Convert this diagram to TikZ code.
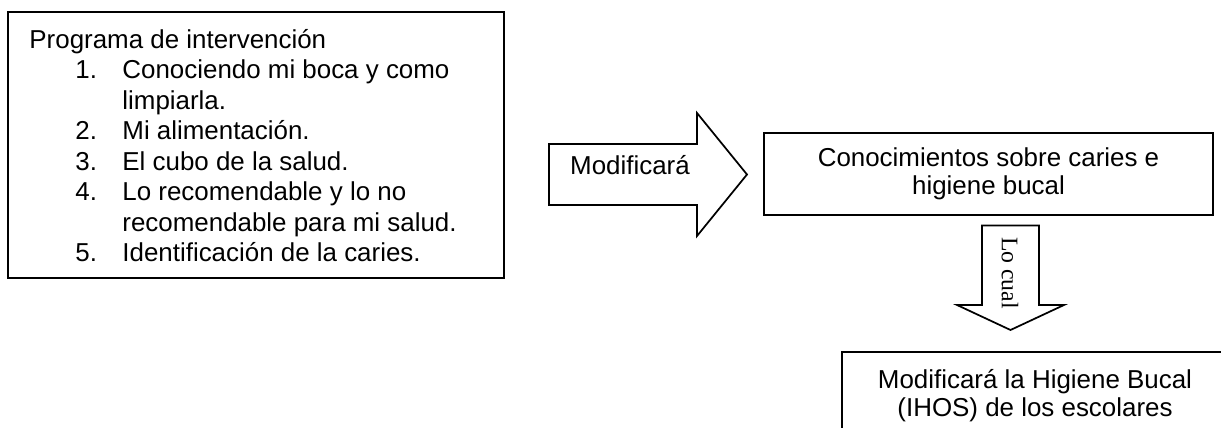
\documentclass[tikz,border=0pt]{standalone}
\usepackage{fontspec}
\setmainfont{Liberation Sans}
\newfontfamily\serifcual{Liberation Serif}
\usetikzlibrary{positioning}
\newcommand\pxu{0.463pt}
\tikzset{
  caja/.style={draw=black,line width=0.8pt,fill=white,inner sep=0pt},
  flecha/.style={draw=black,line width=0.8pt,fill=white,line join=miter},
  linea/.style={anchor=base west,inner sep=0pt,font=\fontsize{12}{14}\selectfont},
  cuadro/.style={caja,align=center,font=\fontsize{12}{13}\selectfont},
}

\begin{document}
\begin{tikzpicture}[x=\pxu,y=-\pxu]
\useasboundingbox (0,0) rectangle (1221,428);
\clip (0,0) rectangle (1221,428);
% programa de intervencion
\node[caja,minimum width={496*\pxu},minimum height={266*\pxu}] (prog) at (256,145) {};
\node[linea] (titulo) at (29,48.3) {Programa de intervención};
\foreach \t [count=\k] in {Conociendo mi boca y como, limpiarla., Mi alimentación., El cubo de la salud., Lo recomendable y lo no, recomendable para mi salud., Identificación de la caries.}
  \node[linea] (item\k) at (122,{48.3+30.5*\k}) {\t};
\foreach \n/\k in {1/1,2/3,3/4,4/5,5/7}
  \node[linea] (num\n) at (75,{48.3+30.5*\k}) {\n.};
% flecha grande
\draw[flecha] (549,144) -- (697,144) -- (697,113) -- (747,174.5) -- (697,236) -- (697,205) -- (549,205) -- cycle;
\node[font=\fontsize{12}{14}\selectfont] (modif) at (630,165) {Modificará};
% cajas de la derecha
\node[cuadro,minimum width={449*\pxu},minimum height={82*\pxu}] (conoc) at (988.5,174) {Conocimientos sobre caries e\\higiene bucal};
\draw[flecha] (982,225.5) -- (1039,225.5) -- (1039,305) -- (1064,305) -- (1010.5,330) -- (957,305) -- (982,305) -- cycle;
\node[rotate=-90,font=\serifcual\fontsize{11}{13}\selectfont] (locual) at (1010,273) {Lo cual};
\node[cuadro,minimum width={386*\pxu},minimum height={88*\pxu}] (higiene) at (1035,396) {Modificará la Higiene Bucal\\(IHOS) de los escolares};
\end{tikzpicture}
\end{document}
